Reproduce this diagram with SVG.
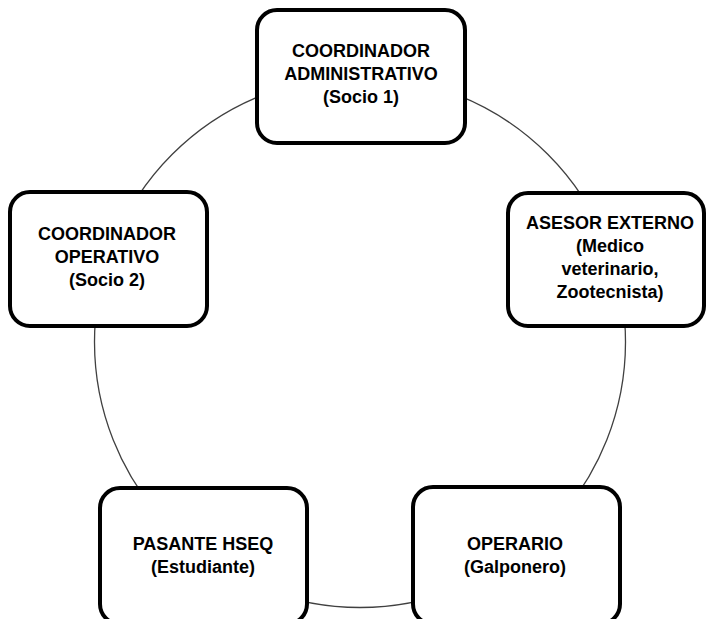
<svg xmlns="http://www.w3.org/2000/svg" width="706" height="619" viewBox="0 0 706 619">
<style>
.box{fill:#ffffff;stroke:#000000;stroke-width:4}
.t{font-family:"Liberation Sans",Arial,sans-serif;font-weight:bold;font-size:18px;fill:#000000;text-anchor:middle}
.ring{fill:none;stroke:#404040;stroke-width:1.3}
</style>
<rect width="706" height="619" fill="#ffffff"/>
<g id="connectors">
<circle class="ring" cx="360" cy="342" r="265.5"/>
</g>
<g id="node-admin">
<rect class="box" x="257" y="10" width="208" height="133" rx="20"/>
<text class="t" x="361" y="57">COORDINADOR</text>
<text class="t" x="361" y="80">ADMINISTRATIVO</text>
<text class="t" x="361" y="103">(Socio 1)</text>
</g>
<g id="node-operativo">
<rect class="box" x="10" y="192" width="197" height="134" rx="20"/>
<text class="t" x="107" y="240">COORDINADOR</text>
<text class="t" x="107" y="263">OPERATIVO</text>
<text class="t" x="107" y="286">(Socio 2)</text>
</g>
<g id="node-asesor">
<rect class="box" x="508" y="193" width="196" height="133" rx="20"/>
<text class="t" x="610" y="229">ASESOR EXTERNO</text>
<text class="t" x="610" y="252">(Medico</text>
<text class="t" x="610" y="275">veterinario,</text>
<text class="t" x="610" y="298">Zootecnista)</text>
</g>
<g id="node-pasante">
<rect class="box" x="100" y="488" width="207" height="136" rx="20"/>
<text class="t" x="203" y="550">PASANTE HSEQ</text>
<text class="t" x="203" y="573">(Estudiante)</text>
</g>
<g id="node-operario">
<rect class="box" x="413" y="487" width="207" height="137" rx="20"/>
<text class="t" x="515" y="550">OPERARIO</text>
<text class="t" x="515" y="573">(Galponero)</text>
</g>
</svg>
